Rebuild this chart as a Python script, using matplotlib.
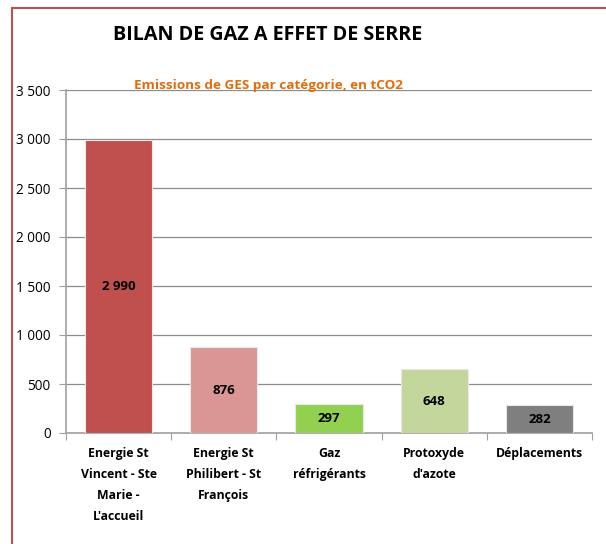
import matplotlib.pyplot as plt
from matplotlib.patches import Rectangle
import numpy as np

categories = ["Energie St\nVincent - Ste\nMarie -\nL'accueil",
              "Energie St\nPhilibert - St\nFrançois",
              "Gaz\nréfrigérants",
              "Protoxyde\nd'azote",
              "Déplacements"]
values = [2990, 876, 297, 648, 282]
labels = ["2 990", "876", "297", "648", "282"]
colors = ["#C0504D", "#D99694", "#92D050", "#C3D69B", "#7F7F7F"]
yticks = [0, 500, 1000, 1500, 2000, 2500, 3000, 3500]
ytick_labels = ["0", "500", "1 000", "1 500", "2 000", "2 500", "3 000", "3 500"]

plt.rcParams['font.family'] = ['Open Sans', 'DejaVu Sans']

fig = plt.figure(figsize=(6.06, 5.44), dpi=100)
# red frame round the chart
fig.patches.append(Rectangle((12 / 606, -0.1), 1.2, 1 - 8 / 544 + 0.1,
                             transform=fig.transFigure, fill=False,
                             edgecolor="#C0504D", linewidth=1.5))

ax = fig.add_axes([66 / 606, 1 - 433 / 544, (592 - 66) / 606, (433 - 90) / 544])
x = np.arange(len(categories))
bars = ax.bar(x, values, width=0.64, color=colors, edgecolor="#E8E8E8",
              linewidth=0.8, zorder=3)
for b, v, lab in zip(bars, values, labels):
    ax.text(b.get_x() + b.get_width() / 2, v / 2, lab, ha="center", va="center",
            fontsize=9.5, fontweight="bold", color="black", zorder=4)

ax.set_xlim(-0.5, len(categories) - 0.5)
ax.set_ylim(0, 3500)
ax.set_yticks(yticks)
ax.set_yticklabels(ytick_labels, fontsize=9.8)
ax.yaxis.grid(True, color="#8C8C8C", linewidth=0.9, zorder=0)
ax.set_axisbelow(True)

ax.set_xticks(np.arange(len(categories) + 1) - 0.5)
ax.set_xticklabels([])
ax.set_xticks(x, minor=True)
ax.set_xticklabels(categories, minor=True, fontsize=8.8, fontweight="bold",
                   linespacing=1.8)
ax.tick_params(axis="x", which="minor", length=0, pad=10)
ax.tick_params(axis="x", which="major", length=5, color="#A0A0A0")
ax.tick_params(axis="y", length=5, color="#A0A0A0", pad=6)

for s in ["top", "right"]:
    ax.spines[s].set_visible(False)
for s in ["left", "bottom"]:
    ax.spines[s].set_color("#A0A0A0")
    ax.spines[s].set_linewidth(1.2)

fig.text(268 / 606, 1 - 35 / 544, "BILAN DE GAZ A EFFET DE SERRE", ha="center",
         va="center", fontsize=14.2, fontweight="bold", color="black")
fig.text(268 / 606, 1 - 86 / 544, "Emissions de GES par catégorie, en tCO2",
         ha="center", va="center", fontsize=9.7, fontweight="bold", color="#E46C0A")

fig.savefig("out.png", dpi=100)
